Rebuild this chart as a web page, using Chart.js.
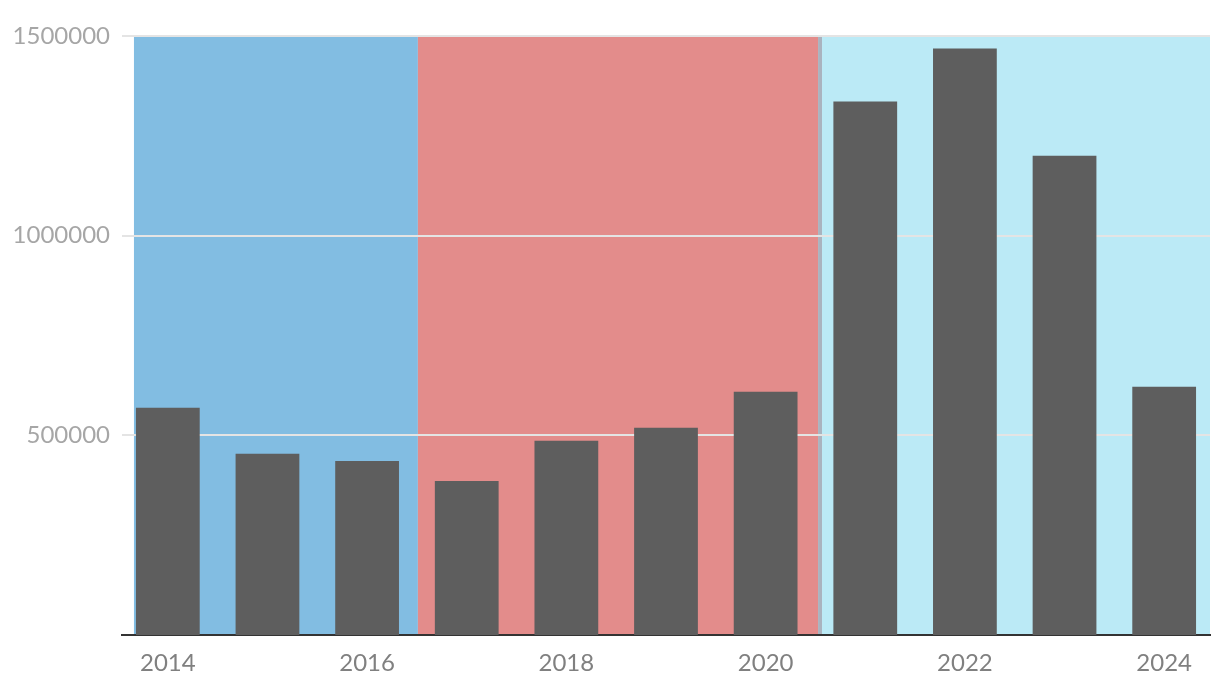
<!DOCTYPE html>
<html>
<head>
<meta charset="utf-8">
<script src="https://cdn.jsdelivr.net/npm/chart.js@4.4.1/dist/chart.umd.min.js"></script>
<style>
  html, body { margin: 0; padding: 0; background: #ffffff; }
  #wrap { width: 1220px; height: 690px; }
</style>
</head>
<body>
<div id="wrap"><canvas id="myChart" width="1220" height="690"></canvas></div>
<script>
// Data
const years = [2014, 2015, 2016, 2017, 2018, 2019, 2020, 2021, 2022, 2023, 2024];
const values = [569000, 453600, 436000, 385900, 486200, 518700, 609000, 1335700, 1468500, 1200400, 621500];
const x_ticks = [2014, 2016, 2018, 2020, 2022, 2024];
const y_ticks = [500000, 1000000, 1500000];

// Background periods (in years along the x axis)
const band_starts = [2013.66, 2016.51, 2020.526, 2020.566];
const band_ends = [2016.51, 2020.526, 2020.566, 2024.46];
const band_colors = ['#82bde2', '#e38c8b', '#aab3bf', '#bbeaf6'];

// Function library

const bandPlugin = {
  id: 'bands',
  beforeDraw(chart) {
    const ctx = chart.ctx;
    const area = chart.chartArea;
    const x = chart.scales.x;
    ctx.save();
    for (let i = 0; i < band_starts.length; i++) {
      const x0 = x.getPixelForValue(band_starts[i]);
      const x1 = x.getPixelForValue(band_ends[i]);
      ctx.fillStyle = band_colors[i];
      ctx.fillRect(x0, area.top, x1 - x0, area.bottom - area.top);
    }
    ctx.restore();
  }
};

const ctx = document.getElementById("myChart").getContext("2d");

const myChart = new Chart(ctx, {
  type: 'bar',
  data: {
    datasets: [{
      data: years.map((yr, i) => ({ x: yr, y: values[i] })),
      backgroundColor: '#5e5e5e',
      barPercentage: 0.8,
      categoryPercentage: 0.8,
    }]
  },
  options: {
    responsive: false,
    animation: false,
    layout: { padding: { top: 36, right: 10, bottom: 0, left: 0 } },
    plugins: {
      legend: { display: false },
      tooltip: { enabled: false },
    },
    scales: {
      x: {
        type: 'linear',
        offset: false,
        min: 2013.54,
        max: 2024.46,
        afterBuildTicks: (scale) => { scale.ticks = x_ticks.map(v => ({ value: v })); },
        afterFit: (scale) => { scale.height = 55; },
        grid: { display: false, drawTicks: false, offset: false },
        border: { display: true, color: '#333333', width: 2 },
        ticks: {
          color: '#808080',
          padding: 14,
          font: { family: 'Lato', size: 24 },
          callback: (v) => String(v),
        },
      },
      y: {
        min: 0,
        max: 1500000,
        afterBuildTicks: (scale) => { scale.ticks = y_ticks.map(v => ({ value: v })); },
        afterFit: (scale) => { scale.width = 122; },
        grid: { color: '#e4e4e4', lineWidth: 2, drawTicks: false },
        border: { display: false },
        ticks: {
          color: '#a6a6a6',
          padding: 12,
          font: { family: 'Lato', size: 24 },
          callback: (v) => String(v),
        },
      },
    }
  },
  plugins: [bandPlugin]
});
</script>
</body>
</html>
